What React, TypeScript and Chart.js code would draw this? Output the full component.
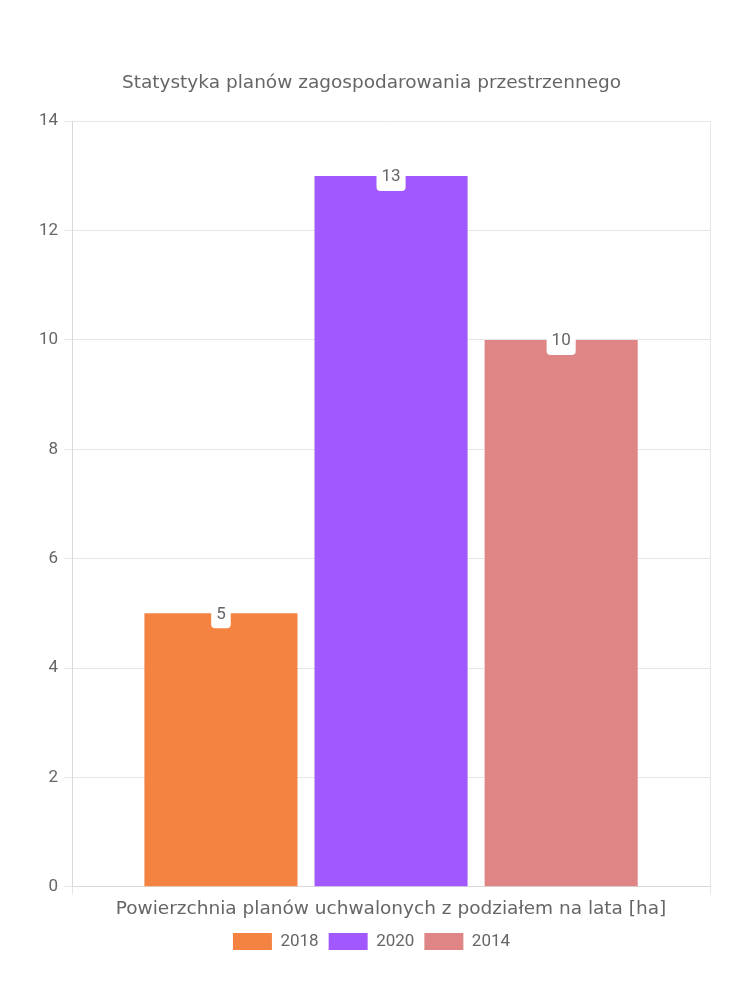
import React, { useEffect, useRef } from "react";
import { Chart, registerables } from "chart.js";

Chart.register(...registerables);

const categories = ["Powierzchnia planów uchwalonych z podziałem na lata [ha]"];
const seriesLabels = ["2018", "2020", "2014"];
const seriesValues = [[5], [13], [10]];
const seriesColors = ["#F48341", "#A159FF", "#E08585"];
const titleText = "Statystyka planów zagospodarowania przestrzennego";

const FONT = "Roboto, 'Noto Sans', sans-serif";
const WIDE = "'DejaVu Sans', Roboto, sans-serif";

const labelPlugin = {
  id: "barLabels",
  afterDatasetsDraw(chart: any) {
    const ctx = chart.ctx;
    ctx.save();
    ctx.font = `17px ${FONT}`;
    ctx.textAlign = "center";
    ctx.textBaseline = "middle";
    chart.data.datasets.forEach((ds: any, i: number) => {
      const meta = chart.getDatasetMeta(i);
      meta.data.forEach((bar: any, j: number) => {
        const text = String(ds.data[j]);
        const w = ctx.measureText(text).width + 10;
        const h = 30;
        const x = bar.x - w / 2;
        const y = bar.y - h / 2;
        ctx.fillStyle = "#ffffff";
        ctx.beginPath();
        (ctx as any).roundRect(x, y, w, h, 4);
        ctx.fill();
        ctx.fillStyle = "#666666";
        ctx.fillText(text, bar.x, bar.y + 1);
      });
    });
    ctx.restore();
  },
};

export default function App() {
  const ref = useRef<HTMLCanvasElement>(null);
  useEffect(() => {
    if (!ref.current) return;
    const chart = new Chart(ref.current, {
      type: "bar",
      data: {
        labels: categories,
        datasets: seriesLabels.map((l, i) => ({
          label: l,
          data: seriesValues[i],
          backgroundColor: seriesColors[i],
          borderWidth: 0,
        })),
      },
      options: {
        animation: false,
        responsive: true,
        maintainAspectRatio: false,
        layout: { padding: { top: 55, left: 25, right: 32, bottom: 32 } },
        plugins: {
          title: {
            display: true,
            text: titleText,
            color: "#666",
            font: { family: WIDE, size: 18.5, weight: "normal" },
            padding: { top: 9, bottom: 27 },
          },
          legend: {
            position: "bottom",
            labels: {
              color: "#666",
              font: { family: FONT, size: 17 },
              boxWidth: 39,
              boxHeight: 17,
              padding: 10,
            },
          },
          tooltip: { enabled: false },
        },
        scales: {
          x: {
            ticks: { color: "#666", font: { family: WIDE, size: 18.5 } },
            grid: { color: "#e6e6e6", tickLength: 8 },
            border: { color: "#d9d9d9" },
          },
          y: {
            min: 0,
            max: 14,
            ticks: { stepSize: 2, color: "#666", font: { family: FONT, size: 17 }, padding: 6 },
            grid: { color: "#e6e6e6", tickLength: 8 },
            border: { color: "#d9d9d9" },
          },
        },
      },
      plugins: [labelPlugin],
    });
    return () => chart.destroy();
  }, []);
  return (
    <div style={{ width: 734, height: 984, position: "relative" }}>
      <canvas ref={ref} />
    </div>
  );
}
